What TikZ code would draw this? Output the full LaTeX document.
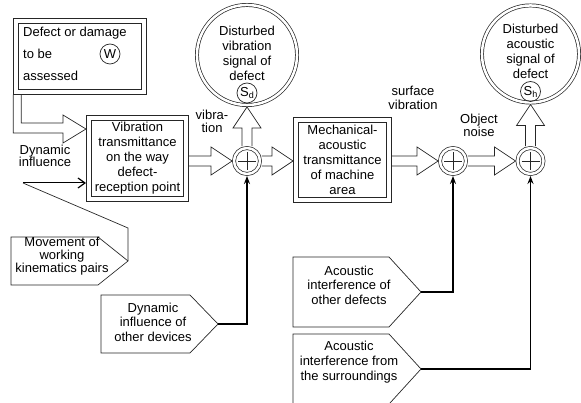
\documentclass[tikz,border=0pt]{standalone}
\usepackage{fontspec}
\setmainfont{Liberation Sans}
\usetikzlibrary{positioning,calc,arrows.meta}

% hollow block arrows
\newcommand{\hollowright}[2]{%
  \draw[hollow] ($(#1)+(0,-5)$) -- ($(#2)+(-21,-5)$) -- ($(#2)+(-21,-14)$) -- (#2)
    -- ($(#2)+(-21,14)$) -- ($(#2)+(-21,5)$) -- ($(#1)+(0,5)$);}
\newcommand{\hollowup}[2]{%
  \draw[hollow] ($(#1)+(-5,0)$) -- ($(#2)+(-5,21)$) -- ($(#2)+(-14,21)$) -- (#2)
    -- ($(#2)+(14,21)$) -- ($(#2)+(5,21)$) -- ($(#1)+(5,0)$);}
\newcommand{\lowsub}[1]{{\fontsize{9}{9}\selectfont\raisebox{-2pt}{#1}}}

\begin{document}
\begin{tikzpicture}[x=1pt, y=-1pt,
    every node/.style={font=\fontsize{13}{15}\selectfont},
    thinline/.style={line width=0.7pt, draw=black!85},
    dbox/.style={thinline, double, double distance=4.5pt, rectangle, align=center, inner sep=2pt, outer sep=2.95pt},
    dcirc/.style={thinline, double, double distance=2.5pt, circle, inner sep=0pt, outer sep=1.95pt},
    sumnode/.style={dcirc, minimum size=26pt,
      path picture={\draw[line width=0.9pt] ($(path picture bounding box.center)+(-9,0)$) -- +(18,0)
        ($(path picture bounding box.center)+(0,-9)$) -- +(0,18);}},
    sig/.style={thinline, circle, minimum size=20pt, inner sep=0pt},
    hollow/.style={thinline, line join=miter},
    feed/.style={line width=1.3pt, -{Stealth[length=8pt,width=6pt]}},
    lbl/.style={align=center, inner sep=0pt}]
    \useasboundingbox (0,0) rectangle (581,403);

    % defect to be assessed
    \node[dbox, minimum width=127.6pt, minimum height=70.6pt] (defect) at (80,56.5) {};
    \node[anchor=west, align=left, inner sep=0pt, font=\fontsize{13}{22}\selectfont] (deftxt) at (23,54) {Defect or damage\\to be\\assessed};
    \node[sig] (w) at (110,54) {W};

    % transmittance blocks
    \node[dbox, minimum width=97.1pt, minimum height=81.1pt] (vib) at (137.5,158.5) {Vibration\\transmittance\\on the way\\defect-\\reception point};
    \node[dbox, minimum width=93.1pt, minimum height=80.1pt] (mech) at (342.5,160) {Mechanical-\\acoustic\\transmittance\\of machine\\area};

    % summing points
    \node[sumnode] (p1) at (247,161) {};
    \node[sumnode] (p2) at (453,161) {};
    \node[sumnode] (p3) at (530.5,161) {};

    % output signals
    \node[dcirc, minimum size=100.1pt] (sdc) at (247,55) {};
    \node[lbl] (sdtxt) at (247,53) {Disturbed\\vibration\\signal of\\defect};
    \node[sig] (sd) at (247,93) {S\lowsub{d}};
    \node[dcirc, minimum size=97.1pt] (shc) at (530.5,54) {};
    \node[lbl] (shtxt) at (530.5,51.5) {Disturbed\\acoustic\\signal of\\defect};
    \node[sig] (sh) at (530.5,91.5) {S\lowsub{h}};

    % labels
    \node[lbl, font=\fontsize{13}{12.5}\selectfont] (dyninf) at (45,156) {Dynamic\\influence};
    \node[lbl, font=\fontsize{13}{13}\selectfont] (vibr) at (212,121) {vibra-\\tion};
    \node[lbl, font=\fontsize{13}{14}\selectfont] (surf) at (413,98) {surface\\vibration};
    \node[lbl, font=\fontsize{13}{13}\selectfont] (noise) at (479,125) {Object\\noise};

    % disturbance sources
    \coordinate (movtip) at (128,261);
    \draw[thinline] (11,237) -- (98,237) -- (movtip) -- (98,285) -- (11,285) -- cycle;
    \node[lbl, font=\fontsize{13}{13}\selectfont] (movtxt) at (62,256) {Movement of\\working\\kinematics pairs};
    \coordinate (devtip) at (218,324);
    \draw[thinline] (101,295) -- (190,295) -- (devtip) -- (190,353) -- (101,353) -- cycle;
    \node[lbl, font=\fontsize{13}{14.5}\selectfont] (devtxt) at (153,322) {Dynamic\\influence of\\other devices};
    \coordinate (aodtip) at (421,292);
    \draw[thinline] (293,257) -- (389,257) -- (aodtip) -- (389,327) -- (293,327) -- cycle;
    \node[lbl, font=\fontsize{13}{14.5}\selectfont] (aodtxt) at (349,285) {Acoustic\\interference of\\other defects};
    \coordinate (surtip) at (421,369);
    \draw[thinline] (390,403) -- (surtip) -- (389,334) -- (293,334) -- (293,403);
    \node[lbl] (surtxt) at (349,362) {Acoustic\\interference from\\the surroundings};

    % block arrows
    \coordinate (dtip) at ($(vib.west)+(0,-29.5)$);
    \draw[hollow] (defect.south west) |- ($(dtip)+(-23,4)$) -- ++(0,10) -- (dtip) -- ++(-23,-14) -- ++(0,8) -| ($(defect.south west)+(8,0)$);
    \hollowright{vib.east |- p1}{p1.west}
    \hollowright{p1.east}{mech.west |- p1}
    \hollowright{mech.east |- p2}{p2.west}
    \hollowright{p2.east}{p3.west}
    \hollowup{p1.north}{sdc.south}
    \hollowup{p3.north}{shc.south}

    % disturbance connectors
    \coordinate (bend1) at (128,228);
    \coordinate (bend2) at (23,183);
    \draw[thinline] (movtip) -- (bend1) -- (bend2);
    \draw[line width=1pt, -{Straight Barb[length=7pt,width=10pt,line width=1.2pt]}] (bend2) -- (bend2 -| vib.west);
    \draw[feed] (devtip) -| (p1.south);
    \draw[feed] (aodtip) -| (p2.south);
    \draw[feed] (surtip) -| (p3.south);
\end{tikzpicture}
\end{document}
